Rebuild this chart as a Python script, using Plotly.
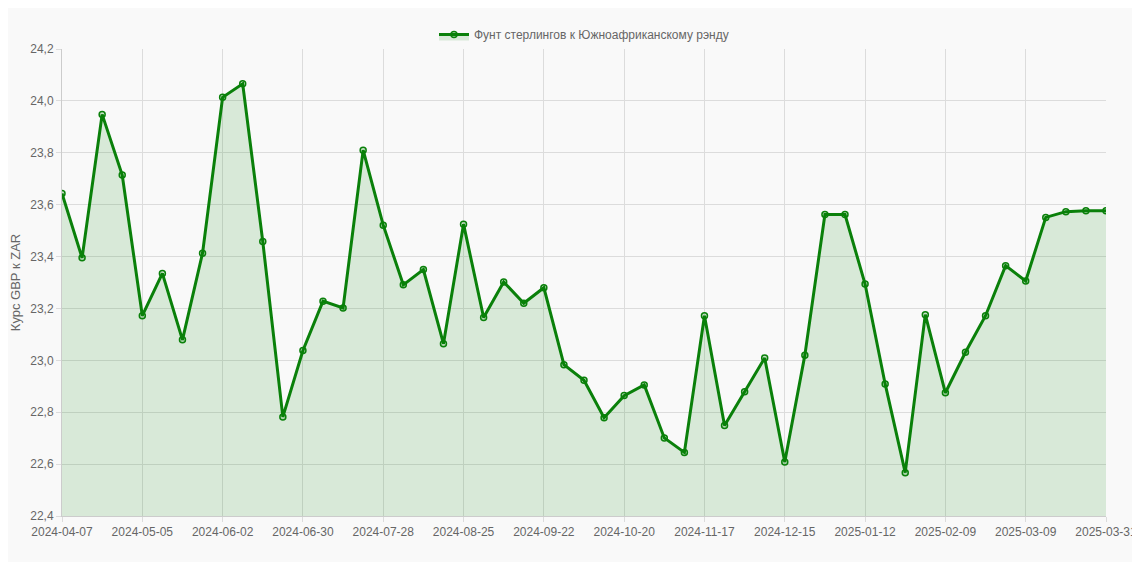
import datetime as dt
import plotly.graph_objects as go

rates = [23.643, 23.395, 23.948, 23.714, 23.172, 23.335, 23.079, 23.413, 24.014, 24.066,
         23.458, 22.782, 23.038, 23.228, 23.202, 23.810, 23.521, 23.291, 23.350, 23.064,
         23.525, 23.165, 23.302, 23.220, 23.280, 22.983, 22.923, 22.779, 22.864, 22.905,
         22.701, 22.645, 23.172, 22.749, 22.879, 23.009, 22.608, 23.020, 23.562, 23.562,
         23.294, 22.909, 22.567, 23.176, 22.875, 23.031, 23.172, 23.365, 23.306, 23.551,
         23.573, 23.577, 23.577]

start = dt.date(2024, 4, 7)
dates = [(start + dt.timedelta(weeks=i)).isoformat() for i in range(len(rates) - 1)]
dates.append('2025-03-31')

tick_labels = dates[::4] + [dates[-1]]
y_ticks = [22.4 + 0.2 * i for i in range(10)]

fig = go.Figure(go.Scatter(
    x=dates, y=rates, mode='lines+markers',
    name='Фунт стерлингов к Южноафриканскому рэнду',
    line=dict(color='#0a800a', width=3),
    marker=dict(size=6, color='rgba(0,128,0,0.2)', line=dict(color='#0a800a', width=1.5)),
    fill='tozeroy', fillcolor='rgba(0,128,0,0.13)'))

fig.update_layout(
    width=1124, height=554,
    paper_bgcolor='#f9f9f9', plot_bgcolor='#f9f9f9',
    font=dict(family='Arial, Liberation Sans', size=12, color='#666'),
    margin=dict(l=54, r=26, t=23, b=46),
    showlegend=True,
    legend=dict(orientation='h', x=0.5, xanchor='center', y=1.0, yanchor='bottom',
                font=dict(size=12, color='#666')),
    xaxis=dict(type='category', tickvals=tick_labels, ticktext=tick_labels,
               range=[0, len(rates) - 1], showgrid=True, gridcolor='#dcdcdc',
               linecolor='#ccc', showline=True, ticks='outside', tickcolor='#dcdcdc',
               automargin=False),
    yaxis=dict(title=dict(text='Курс GBP к ZAR', font=dict(size=13), standoff=8),
               range=[22.4, 24.2], tickvals=y_ticks,
               ticktext=[f'{v:.1f}'.replace('.', ',') for v in y_ticks],
               showgrid=True, gridcolor='#dcdcdc', zeroline=False,
               linecolor='#ccc', showline=True, ticks='outside', tickcolor='#dcdcdc',
               automargin=False),
)

fig.write_html('out.html')
